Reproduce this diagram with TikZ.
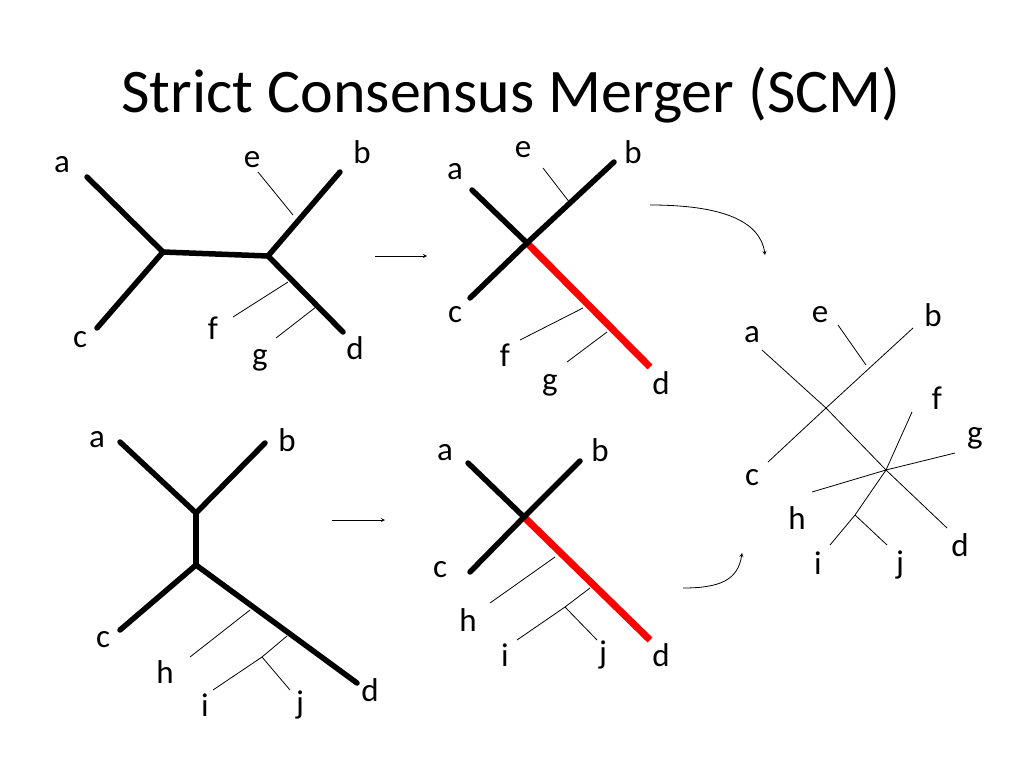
\documentclass[tikz,border=0pt]{standalone}
\usepackage{fontspec}
\setmainfont{Carlito}
\begin{document}
\begin{tikzpicture}[x=1pt,y=-1pt,
 thick/.style={line width=5.5pt,line cap=round},
 red/.style={line width=7pt,draw={rgb,255:red,255;green,0;blue,0}},
 thin/.style={line width=0.8pt},
 lab/.style={font=\fontsize{33}{33}\selectfont,inner sep=0pt},
 arr/.style={line width=0.8pt,-stealth}]
\useasboundingbox (0,0) rectangle (1024,768);
\node[font=\fontsize{62}{62}\selectfont] (title) at (511,95) {Strict Consensus Merger (SCM)};
% tree 1
\coordinate (n1) at (163,252); \coordinate (n2) at (268,256);
\draw[thick] (87,177) -- (n1) -- (97,328); \draw[thick] (n1) -- (n2);
\draw[thick] (340,172) -- (n2) -- (343,332);
\draw[thin] (258,172) -- (293,215); \draw[thin] (233,317) -- (288,282); \draw[thin] (276,338) -- (316,307);
\node[lab] at (62,165) {a}; \node[lab] at (252,160) {e}; \node[lab] at (362,152) {b};
\node[lab] at (80,340) {c}; \node[lab] at (213,328) {f}; \node[lab] at (260,360) {g}; \node[lab] at (355,348) {d};
\coordinate (ar1a) at (375,256); \coordinate (ar1b) at (427,256);
\draw[arr] (ar1a) -- (ar1b);
% tree 2
\coordinate (m) at (527,243);
\draw[red] (m) -- (650,367);
\draw[thick] (472,190) -- (m) -- (470,298); \draw[thick] (614,162) -- (m);
\draw[thin] (543,168) -- (570,203); \draw[thin] (520,340) -- (583,308); \draw[thin] (567,362) -- (607,332);
\node[lab] at (455,172) {a}; \node[lab] at (523,150) {e}; \node[lab] at (633,152) {b};
\node[lab] at (455,315) {c}; \node[lab] at (505,355) {f}; \node[lab] at (550,385) {g}; \node[lab] at (661,383) {d};
\coordinate (c1a) at (650,205); \coordinate (c1b) at (765,255);
\draw[arr] (c1a) .. controls (720,205) and (760,220) .. (c1b);
% tree 3
\coordinate (p1) at (196,513); \coordinate (p2) at (196,565);
\draw[thick] (120,442) -- (p1) -- (265,443); \draw[thick] (p1) -- (p2);
\draw[thick] (120,630) -- (p2) -- (357,683);
\draw[thin] (190,657) -- (250,610); \draw[thin] (287,636) -- (262,657) -- (213,690); \draw[thin] (262,657) -- (290,690);
\node[lab] at (97,440) {a}; \node[lab] at (287,440) {b}; \node[lab] at (103,640) {c};
\node[lab] at (165,672) {h}; \node[lab] at (205,705) {i}; \node[lab] at (300,705) {j}; \node[lab] at (370,690) {d};
\coordinate (ar2a) at (332,520); \coordinate (ar2b) at (385,520);
\draw[arr] (ar2a) -- (ar2b);
% tree 4
\coordinate (q) at (524,517);
\draw[red] (q) -- (650,640);
\draw[thick] (468,463) -- (q) -- (470,572); \draw[thick] (580,461) -- (q);
\draw[thin] (490,603) -- (555,557); \draw[thin] (590,588) -- (565,607) -- (517,640); \draw[thin] (565,607) -- (597,640);
\node[lab] at (445,453) {a}; \node[lab] at (600,450) {b}; \node[lab] at (440,570) {c};
\node[lab] at (468,620) {h}; \node[lab] at (505,655) {i}; \node[lab] at (603,655) {j}; \node[lab] at (661,655) {d};
\coordinate (c2a) at (683,588); \coordinate (c2b) at (742,553);
\draw[arr] (c2a) .. controls (720,588) and (738,580) .. (c2b);
% tree 5
\coordinate (r1) at (826,408); \coordinate (r2) at (886,470);
\draw[thin] (762,350) -- (r1) -- (r2) -- (947,528);
\draw[thin] (768,462) -- (r1) -- (913,328);
\draw[thin] (838,325) -- (866,365);
\draw[thin] (912,412) -- (r2) -- (955,453); \draw[thin] (812,492) -- (r2);
\draw[thin] (r2) -- (855,515) -- (830,545); \draw[thin] (855,515) -- (887,545);
\node[lab] at (752,335) {a}; \node[lab] at (820,315) {e}; \node[lab] at (933,315) {b};
\node[lab] at (937,398) {f}; \node[lab] at (975,438) {g}; \node[lab] at (752,478) {c};
\node[lab] at (797,518) {h}; \node[lab] at (960,545) {d}; \node[lab] at (818,563) {i}; \node[lab] at (900,565) {j};
\end{tikzpicture}
\end{document}
